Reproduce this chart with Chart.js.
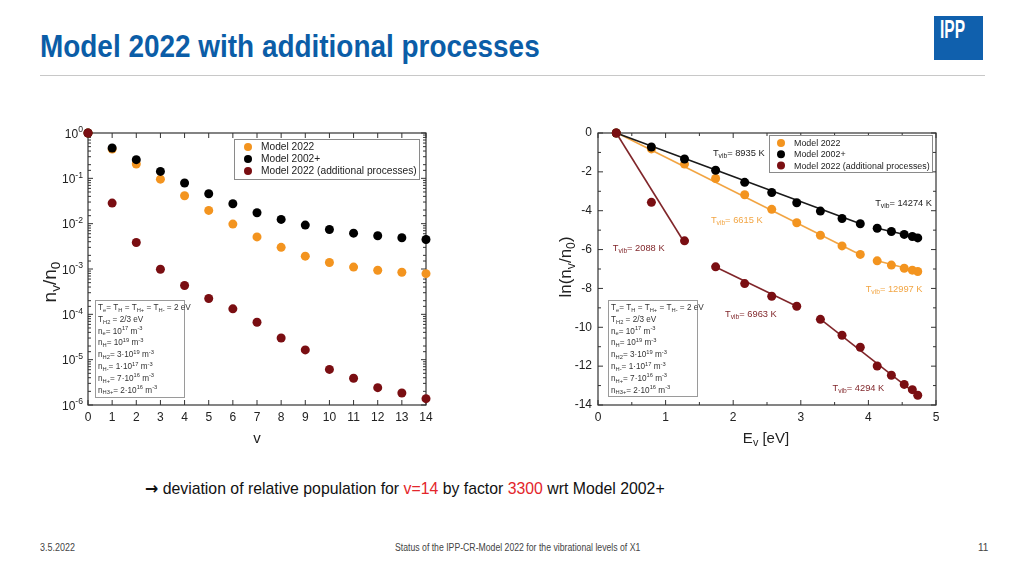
<!DOCTYPE html>
<html>
<head>
<meta charset="utf-8">
<script src="https://cdn.jsdelivr.net/npm/chart.js@4.4.1/dist/chart.umd.min.js"></script>
<style>
  body { margin: 0; width: 1024px; height: 576px; position: relative; background: #fff; overflow: hidden;
         font-family: 'Liberation Sans', Arial, sans-serif; }
  .abs { position: absolute; white-space: nowrap; transform-origin: 0 50%; }
  #title { left: 40px; top: 28px; font-size: 32px; font-weight: bold; color: #0b5da7; }
  #rule { position: absolute; left: 40px; top: 75px; width: 945px; height: 1px; background: #c8c8c8; }
  #logo { position: absolute; left: 934px; top: 16px; width: 49px; height: 44px; background: #1060ad; }
  #logo span { position: absolute; left: 6px; top: -1px; color: #fff; font-weight: bold; font-size: 25px; transform: scaleX(0.62); transform-origin: 0 0; }
  canvas { position: absolute; }
  #note { left: 145px; top: 478px; font-size: 17px; color: #111; }
  #note .arr { font-family: 'DejaVu Sans', sans-serif; font-weight: bold; font-size: 17px; }
  #note .r { color: #e3262b; }
  .foot { top: 542px; font-size: 10px; color: #444; }
</style>
</head>
<body>
<div id="title" class="abs">Model 2022 with additional processes</div>
<div id="rule"></div>
<div id="logo"><span>IPP</span></div>
<canvas id="left" width="450" height="340" style="left:0px;top:110px"></canvas>
<canvas id="right" width="450" height="340" style="left:510px;top:110px"></canvas>
<div id="note" class="abs"><span class="arr">→</span> deviation of relative population for <span class="r">v=14</span> by factor <span class="r">3300</span> wrt Model 2002+</div>
<div id="f1" class="abs foot" style="left:40px">3.5.2022</div>
<div id="f2" class="abs foot" style="left:395px">Status of the IPP-CR-Model 2022 for the vibrational levels of X1</div>
<div id="f3" class="abs foot" style="left:978px">11</div>
<script>
// vibrational level, relative population n_v/n_0
const vLevels = [0, 1, 2, 3, 4, 5, 6, 7, 8, 9, 10, 11, 12, 13, 14];
const pop2022 = [1, 0.443, 0.207, 0.096, 0.0413, 0.0196, 0.0098, 0.0051, 0.0030, 0.00192, 0.00139, 0.0011, 0.00094, 0.00085, 0.00079];
const pop2002p = [1, 0.467, 0.258, 0.142, 0.0787, 0.0457, 0.0275, 0.0174, 0.0124, 0.0093, 0.00745, 0.00618, 0.0054, 0.0049, 0.00447];
const popAdd = [1, 0.0284, 0.00385, 0.00099, 0.000432, 0.000223, 0.000132, 0.000067, 0.000030, 0.0000164, 0.0000061, 0.0000039, 0.00000241, 0.00000184, 0.00000138];

// vibrational energy E_v [eV] and ln(n_v/n_0)
const energies = [0.27, 0.79, 1.28, 1.74, 2.17, 2.57, 2.94, 3.29, 3.61, 3.88, 4.13, 4.34, 4.53, 4.65, 4.73];
const ln2022 = [0, -0.82, -1.60, -2.34, -3.18, -3.93, -4.62, -5.26, -5.81, -6.25, -6.58, -6.80, -6.96, -7.06, -7.13];
const ln2002p = [0, -0.72, -1.34, -1.92, -2.54, -3.06, -3.59, -4.02, -4.40, -4.67, -4.90, -5.07, -5.22, -5.33, -5.40];
const lnAdd = [0, -3.57, -5.55, -6.89, -7.75, -8.40, -8.92, -9.59, -10.41, -11.03, -11.99, -12.47, -12.94, -13.21, -13.50];

// Boltzmann fit segments (start and end point) and their T_vib
const fit2002pA = [[0.27, 0.0], [3.88, -4.67]];
const fit2002pB = [[4.13, -4.90], [4.73, -5.38]];
const fit2022A = [[0.27, 0.03], [3.88, -6.27]];
const fit2022B = [[4.13, -6.58], [4.73, -7.12]];
const fitAddA = [[0.27, 0.0], [1.28, -5.65]];
const fitAddB = [[1.74, -6.90], [2.94, -8.92]];
const fitAddC = [[3.29, -9.58], [4.73, -13.50]];
const tvibValues = [8935, 14274, 6615, 12997, 2088, 6963, 4294];

const seriesNames = ['Model 2022', 'Model 2002+', 'Model 2022 (additional processes)'];
const paramLines = [
  'T_{e}= T_{H} = T_{H+} = T_{H-} = 2 eV',
  'T_{H2} = 2/3 eV',
  'n_{e}= 10^{17} m^{-3}',
  'n_{H}= 10^{19} m^{-3}',
  'n_{H2}= 3·10^{19} m^{-3}',
  'n_{H-}= 1·10^{17} m^{-3}',
  'n_{H+}= 7·10^{16} m^{-3}',
  'n_{H3+}= 2·10^{16} m^{-3}'
];

const ORANGE = '#f3941f';
const BLACK = '#000000';
const DARKRED = '#7a0e12';
const FONT = "'Liberation Sans', Arial, sans-serif";
const TXT = '#222';

function parseRich(str) {
  const parts = [];
  let buf = '', i = 0;
  while (i < str.length) {
    const c = str[i];
    if ((c === '_' || c === '^') && str[i + 1] === '{') {
      if (buf) { parts.push({ t: buf, m: 0 }); buf = ''; }
      const end = str.indexOf('}', i);
      parts.push({ t: str.slice(i + 2, end), m: c === '_' ? 1 : -1 });
      i = end + 1;
    } else { buf += c; i++; }
  }
  if (buf) parts.push({ t: buf, m: 0 });
  return parts;
}

// draw text with sub/superscripts, y is the baseline
function drawRich(ctx, str, x, y, size, o = {}) {
  const parts = parseRich(str);
  const small = size * (o.ratio || 0.68);
  let w = 0;
  parts.forEach(p => {
    ctx.font = (p.m ? small : size) + 'px ' + FONT;
    p.w = ctx.measureText(p.t).width;
    w += p.w;
  });
  let cx = o.align === 'right' ? x - w : o.align === 'center' ? x - w / 2 : x;
  ctx.textAlign = 'left';
  ctx.textBaseline = 'alphabetic';
  ctx.fillStyle = o.color || TXT;
  parts.forEach(p => {
    ctx.font = (p.m ? small : size) + 'px ' + FONT;
    const dy = p.m === 1 ? size * 0.22 : p.m === -1 ? -size * 0.42 : 0;
    ctx.fillText(p.t, cx, y + dy);
    cx += p.w;
  });
  return w;
}

function line(ctx, x1, y1, x2, y2) {
  ctx.beginPath(); ctx.moveTo(x1, y1); ctx.lineTo(x2, y2); ctx.stroke();
}

const framePlugin = {
  id: 'frame',
  beforeDatasetsDraw(chart, args, o) {
    const { ctx, chartArea: a, scales: { x, y } } = chart;
    ctx.save();
    ctx.strokeStyle = '#333';
    ctx.lineWidth = 1.2;
    ctx.strokeRect(a.left, a.top, a.right - a.left, a.bottom - a.top);
    ctx.lineWidth = 1;
    const xt = x.ticks.map(t => t.value);
    xt.forEach(v => {
      const px = x.getPixelForValue(v);
      line(ctx, px, a.bottom, px, a.bottom - 5);
      line(ctx, px, a.top, px, a.top + 5);
    });
    if (o.minor) {
      for (let i = 0; i < xt.length - 1; i++) {
        const px = x.getPixelForValue((xt[i] + xt[i + 1]) / 2);
        line(ctx, px, a.bottom, px, a.bottom - 3);
        line(ctx, px, a.top, px, a.top + 3);
      }
    }
    const yt = y.ticks.map(t => t.value);
    yt.forEach(v => {
      const py = y.getPixelForValue(v);
      let len = 5;
      if (o.log) {
        const l = Math.log10(v);
        len = Math.abs(l - Math.round(l)) < 1e-6 ? 5 : 3;
      }
      line(ctx, a.left, py, a.left + len, py);
      line(ctx, a.right, py, a.right - len, py);
    });
    if (o.minor) {
      for (let i = 0; i < yt.length - 1; i++) {
        const py = y.getPixelForValue((yt[i] + yt[i + 1]) / 2);
        line(ctx, a.left, py, a.left + 3, py);
        line(ctx, a.right, py, a.right - 3, py);
      }
    }
    ctx.restore();
  },
  afterDatasetsDraw(chart, args, o) {
    const { ctx, chartArea: a, scales: { x, y } } = chart;
    ctx.save();
    // power-of-ten labels for the log axis
    if (o.log) {
      y.ticks.forEach(t => {
        const l = Math.log10(t.value);
        if (Math.abs(l - Math.round(l)) < 1e-6) {
          drawRich(ctx, '10^{' + Math.round(l) + '}', a.left - 5, y.getPixelForValue(t.value) + 4.5, 12, { align: 'right', ratio: 0.72 });
        }
      });
    }
    // axis titles
    drawRich(ctx, o.xTitle, (a.left + a.right) / 2 + (o.xTitleDx || 0), a.bottom + 38, 15, { align: 'center', ratio: 0.72 });
    ctx.save();
    ctx.translate(o.yTitleX, o.yTitleY);
    ctx.rotate(-Math.PI / 2);
    drawRich(ctx, o.yTitle, 0, 6, o.yTitleSize, { align: 'center', ratio: 0.72 });
    ctx.restore();
    // legend box
    const lg = o.legend;
    ctx.fillStyle = '#fff';
    ctx.fillRect(lg.x, lg.y, lg.w, lg.h);
    ctx.strokeStyle = '#8a8a8a';
    ctx.lineWidth = 1;
    ctx.strokeRect(lg.x + 0.5, lg.y + 0.5, lg.w, lg.h);
    chart.data.datasets.filter(d => !d.fit).forEach((d, i) => {
      const cy = lg.y + lg.row0 + i * lg.step;
      ctx.fillStyle = d.backgroundColor;
      ctx.beginPath(); ctx.arc(lg.x + lg.dot, cy, 4, 0, Math.PI * 2); ctx.fill();
      ctx.fillStyle = TXT;
      ctx.font = lg.size + 'px ' + FONT;
      ctx.textBaseline = 'middle';
      ctx.textAlign = 'left';
      ctx.fillText(d.label, lg.x + lg.text, cy + 0.5);
    });
    // parameter box
    const pb = o.params;
    ctx.fillStyle = '#fff';
    ctx.fillRect(pb.x, pb.y, pb.w, pb.h);
    ctx.strokeStyle = '#9a9a9a';
    ctx.strokeRect(pb.x + 0.5, pb.y + 0.5, pb.w, pb.h);
    paramLines.forEach((s, i) => {
      drawRich(ctx, s, pb.x + 3, pb.y + 10 + i * 11.8, 8.2, { ratio: 0.7, color: '#333' });
    });
    // T_vib annotations at data positions
    (o.labels || []).forEach(l => {
      drawRich(ctx, 'T_{vib}= ' + l.t + ' K', x.getPixelForValue(l.x), y.getPixelForValue(l.y) + 3.5, 9.3, { color: l.color, ratio: 0.72 });
    });
    ctx.restore();
  }
};

const tickFont = { family: FONT, size: 12 };

// left chart: n_v/n_0 vs v
const dot = (data, label, color, order) => ({
  label, data, backgroundColor: color, borderColor: color, pointRadius: 4.5, pointHoverRadius: 4.5,
  borderWidth: 0, showLine: false, order, clip: false
});

new Chart(document.getElementById('left'), {
  type: 'scatter',
  data: {
    datasets: [
      dot(vLevels.map((v, i) => ({ x: v, y: pop2022[i] })), seriesNames[0], ORANGE, 3),
      dot(vLevels.map((v, i) => ({ x: v, y: pop2002p[i] })), seriesNames[1], BLACK, 2),
      dot(vLevels.map((v, i) => ({ x: v, y: popAdd[i] })), seriesNames[2], DARKRED, 1)
    ]
  },
  options: {
    responsive: false,
    animation: false,
    layout: { padding: { left: 0, right: 24, top: 23, bottom: 0 } },
    plugins: {
      legend: { display: false },
      tooltip: { enabled: false },
      frame: {
        log: true,
        xTitle: 'v', yTitle: 'n_{v}/n_{0}', yTitleX: 50, yTitleY: 172, yTitleSize: 19,
        legend: { x: 234, y: 29, w: 185, h: 40, row0: 8, step: 12, dot: 14, text: 27, size: 10.2 },
        params: { x: 95, y: 190, w: 89, h: 97 }
      }
    },
    scales: {
      x: {
        type: 'linear', min: 0, max: 14,
        ticks: { stepSize: 1, font: tickFont, color: TXT, padding: 5, autoSkip: false, maxRotation: 0 },
        grid: { display: false, drawTicks: false },
        border: { display: false },
        afterFit: s => { s.height = 45; }
      },
      y: {
        type: 'logarithmic', min: 1e-6, max: 1,
        ticks: { display: false, autoSkip: false },
        grid: { display: false, drawTicks: false },
        border: { display: false },
        afterFit: s => { s.width = 88; }
      }
    }
  },
  plugins: [framePlugin]
});

// right chart: ln(n_v/n_0) vs E_v with Boltzmann fits
const fitLine = (seg, color) => ({
  fit: true, data: seg.map(p => ({ x: p[0], y: p[1] })), showLine: true, borderColor: color,
  borderWidth: 1.6, pointRadius: 0, order: 10, clip: false
});

new Chart(document.getElementById('right'), {
  type: 'scatter',
  data: {
    datasets: [
      dot(energies.map((e, i) => ({ x: e, y: ln2022[i] })), seriesNames[0], ORANGE, 3),
      dot(energies.map((e, i) => ({ x: e, y: ln2002p[i] })), seriesNames[1], BLACK, 2),
      dot(energies.map((e, i) => ({ x: e, y: lnAdd[i] })), seriesNames[2], DARKRED, 1),
      fitLine(fit2002pA, '#1a1a1a'),
      fitLine(fit2002pB, '#1a1a1a'),
      fitLine(fit2022A, '#f2a543'),
      fitLine(fit2022B, '#f2a543'),
      fitLine(fitAddA, '#80262a'),
      fitLine(fitAddB, '#80262a'),
      fitLine(fitAddC, '#80262a')
    ]
  },
  options: {
    responsive: false,
    animation: false,
    layout: { padding: { left: 0, right: 24, top: 23, bottom: 0 } },
    plugins: {
      legend: { display: false },
      tooltip: { enabled: false },
      frame: {
        minor: true,
        xTitle: 'E_{v} [eV]', xTitleDx: -1, yTitle: 'ln(n_{v}/n_{0})', yTitleX: 55, yTitleY: 157, yTitleSize: 17,
        legend: { x: 259, y: 25, w: 163, h: 37, row0: 8, step: 11.3, dot: 12, text: 25, size: 8.9 },
        params: { x: 98, y: 190, w: 89, h: 96 },
        labels: [
          { t: tvibValues[0], x: 1.70, y: -0.98, color: '#222' },
          { t: tvibValues[1], x: 4.10, y: -3.60, color: '#222' },
          { t: tvibValues[2], x: 1.67, y: -4.43, color: '#f2a543' },
          { t: tvibValues[3], x: 3.96, y: -8.00, color: '#f2a543' },
          { t: tvibValues[4], x: 0.22, y: -5.90, color: '#80262a' },
          { t: tvibValues[5], x: 1.88, y: -9.27, color: '#80262a' },
          { t: tvibValues[6], x: 3.47, y: -13.10, color: '#80262a' }
        ]
      }
    },
    scales: {
      x: {
        type: 'linear', min: 0, max: 5,
        ticks: { stepSize: 1, font: tickFont, color: TXT, padding: 5, autoSkip: false, maxRotation: 0 },
        grid: { display: false, drawTicks: false },
        border: { display: false },
        afterFit: s => { s.height = 45; }
      },
      y: {
        type: 'linear', min: -14, max: 0,
        ticks: { stepSize: 2, font: tickFont, color: TXT, padding: 6, autoSkip: false },
        grid: { display: false, drawTicks: false },
        border: { display: false },
        afterFit: s => { s.width = 88; }
      }
    }
  },
  plugins: [framePlugin]
});

// squeeze slide texts to the narrow widths of the original
function fitWidth(id, w) {
  const el = document.getElementById(id);
  el.style.transform = 'scaleX(' + (w / el.offsetWidth) + ')';
}
fitWidth('title', 500);
fitWidth('note', 520);
fitWidth('f1', 35);
fitWidth('f2', 245);
</script>
</body>
</html>
